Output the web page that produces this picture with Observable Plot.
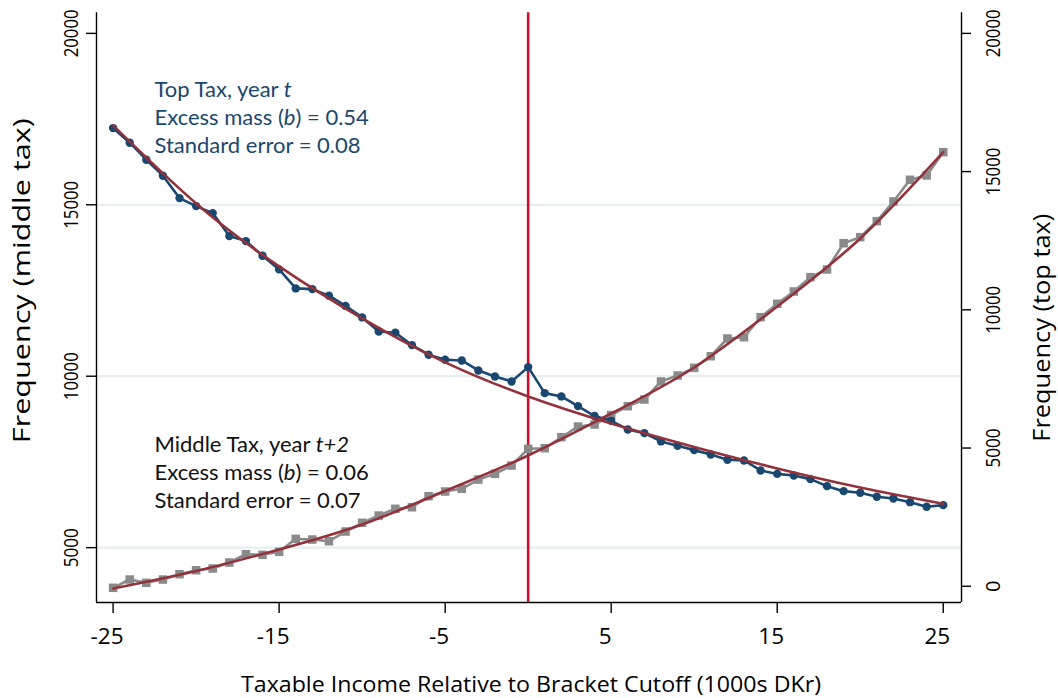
<!DOCTYPE html>
<html>
<head>
<meta charset="utf-8">
<script src="https://cdn.jsdelivr.net/npm/d3@7"></script>
<script src="https://cdn.jsdelivr.net/npm/@observablehq/plot@0.6"></script>
<style>
  html, body { margin: 0; padding: 0; background: #ffffff; }
  #chart { width: 1058px; height: 698px; }
</style>
</head>
<body>
<div id="chart"></div>
<script>
// ---------- data ----------
const bins = [-25,-24,-23,-22,-21,-20,-19,-18,-17,-16,-15,-14,-13,-12,-11,-10,-9,-8,-7,-6,-5,-4,-3,-2,-1,0,1,2,3,4,5,6,7,8,9,10,11,12,13,14,15,16,17,18,19,20,21,22,23,24,25];

// Top tax, year t (right axis, "Frequency (top tax)")
const topTax = [16574,16045,15430,14852,14041,13752,13498,12666,12485,11957,11462,10774,10749,10510,10141,9725,9218,9171,8723,8375,8194,8169,7807,7590,7409,7927,6986,6867,6516,6158,5984,5673,5539,5239,5083,4924,4768,4576,4551,4189,4064,4008,3875,3621,3440,3383,3238,3176,3042,2876,2934];

// Middle tax, year t+2 (left axis, "Frequency (middle tax)")
const middleTax = [3828,4070,3974,4070,4225,4341,4391,4566,4808,4790,4878,5257,5237,5187,5470,5724,5937,6132,6179,6500,6637,6716,6987,7153,7395,7883,7900,8221,8533,8591,8868,9125,9321,9846,10021,10245,10584,11100,11138,11721,12112,12471,12888,13113,13880,14055,14522,15096,15729,15855,16534];

// Fitted counterfactual curves (read at every 5k)
const fitBins = [-25,-20,-15,-10,-5,0,5,10,15,20,25];
const topFit = [16671,13849,11570,9689,8097,6867,5890,5040,4262,3574,2985];
const middleFit = [3807,4318,4945,5674,6652,7687,8912,10254,12033,14017,16534];

// Axis ticks and texts
const xTicks = [-25,-15,-5,5,15,25];
const leftTicks = [5000,10000,15000,20000];
const rightTicks = [0,5000,10000,15000,20000];
const gridTicks = [5000,10000,15000];
const cutoff = [0];
const xTitle = "Taxable Income Relative to Bracket Cutoff (1000s DKr)";
const leftTitle = "Frequency (middle tax)";
const rightTitle = "Frequency (top tax)";
const topNote = ["Top Tax, year t", "Excess mass (b) = 0.54", "Standard error = 0.08"];
const middleNote = ["Middle Tax, year t+2", "Excess mass (b) = 0.06", "Standard error = 0.07"];

// ---------- secondary axis mapping (right axis -> left axis units) ----------
const K = 0.8063;                       // ratio of right-axis to left-axis unit lengths
const toLeft = v => 20000 + (v - 20000) * K;

const navy = "#1a476f";
const gray = "#8a8a8a";
const fitRed = "#93323b";
const cutRed = "#c8102e";

const topData = bins.map((b, i) => ({x: b, y: toLeft(topTax[i])}));
const midData = bins.map((b, i) => ({x: b, y: middleTax[i]}));
const topFitData = fitBins.map((b, i) => ({x: b, y: toLeft(topFit[i])}));
const midFitData = fitBins.map((b, i) => ({x: b, y: middleFit[i]}));

const noteMarks = [];
topNote.forEach((t, i) => noteMarks.push(Plot.text([t], {
  text: d => d, frameAnchor: "top-left", dx: 58, dy: 77.5 + i * 27.7,
  textAnchor: "start", lineAnchor: "middle", fill: navy, fontFamily: "Lato", fontSize: 22
})));
middleNote.forEach((t, i) => noteMarks.push(Plot.text([t], {
  text: d => d, frameAnchor: "top-left", dx: 58, dy: 431.7 + i * 28.3,
  textAnchor: "start", lineAnchor: "middle", fill: "#111", fontFamily: "Lato", fontSize: 22
})));

const chart = Plot.plot({
  width: 1058,
  height: 698,
  marginLeft: 96,
  marginRight: 97,
  marginTop: 12.3,
  marginBottom: 96,
  x: {domain: [-26, 26.1], axis: null},
  y: {domain: [3400, 20600], axis: null},
  style: {fontFamily: "'Open Sans', sans-serif", background: "#ffffff", color: "#000"},
  marks: [
    // grid lines
    Plot.ruleY(gridTicks, {stroke: "#e6eef1", strokeWidth: 2.2}),
    // axis lines
    Plot.ruleX([-26], {stroke: "#000", strokeWidth: 1.4}),
    Plot.ruleX([26.1], {stroke: "#000", strokeWidth: 1.4}),
    Plot.ruleY([3400], {stroke: "#000", strokeWidth: 1.4}),
    // tick marks
    Plot.ruleY(leftTicks, {x1: -26, x2: -26, insetLeft: -10, stroke: "#000", strokeWidth: 1.4}),
    Plot.ruleY(rightTicks.map(toLeft), {x1: 26.1, x2: 26.1, insetRight: -10, stroke: "#000", strokeWidth: 1.4}),
    Plot.ruleX(xTicks, {y1: 3400, y2: 3400, insetBottom: -11, stroke: "#000", strokeWidth: 1.4}),
    // tick labels
    Plot.text(leftTicks, {y: d => d, text: d => String(d), frameAnchor: "left", dx: -25, rotate: -90,
      textAnchor: "middle", lineAnchor: "middle", fontSize: 20, fill: "#000", className: "ytl"}),
    Plot.text(rightTicks, {y: d => toLeft(d), text: d => String(d), frameAnchor: "right", dx: 32, rotate: -90,
      textAnchor: "middle", lineAnchor: "middle", fontSize: 20, fill: "#000", className: "ytl"}),
    Plot.text(xTicks, {x: d => d, text: d => String(d), frameAnchor: "bottom", dy: 34.5, dx: -6,
      textAnchor: "middle", lineAnchor: "middle", fontSize: 22.5, fill: "#000"}),
    // axis titles
    Plot.text([leftTitle], {text: d => d, frameAnchor: "left", dx: -74, dy: -27, rotate: -90,
      textAnchor: "middle", lineAnchor: "middle", fontSize: 24, fill: "#000"}),
    Plot.text([rightTitle], {text: d => d, frameAnchor: "right", dx: 81, dy: 20, rotate: -90,
      textAnchor: "middle", lineAnchor: "middle", fontSize: 24, fill: "#000"}),
    Plot.text([xTitle], {text: d => d, frameAnchor: "bottom", dy: 82, dx: 2,
      textAnchor: "middle", lineAnchor: "middle", fontSize: 22.5, fill: "#000"}),
    // bracket cutoff
    Plot.ruleX(cutoff, {stroke: cutRed, strokeWidth: 2.6}),
    // middle tax series
    Plot.line(midData, {x: "x", y: "y", stroke: gray, strokeWidth: 2.6}),
    Plot.dot(midData, {x: "x", y: "y", symbol: "square", r: 4.8, fill: gray, stroke: "none"}),
    // top tax series
    Plot.line(topData, {x: "x", y: "y", stroke: navy, strokeWidth: 2.6}),
    Plot.dot(topData, {x: "x", y: "y", r: 4.2, fill: navy, stroke: "none"}),
    // fitted curves
    Plot.line(midFitData, {x: "x", y: "y", curve: "natural", stroke: fitRed, strokeWidth: 2.6}),
    Plot.line(topFitData, {x: "x", y: "y", curve: "natural", stroke: fitRed, strokeWidth: 2.6}),
    ...noteMarks
  ]
});

// text widths matched to the reference
const lengths = new Map([[leftTitle, 325], [rightTitle, 228], [xTitle, 580]]);
chart.querySelectorAll("text").forEach(el => {
  const s = el.textContent;
  if (lengths.has(s)) {
    el.setAttribute("textLength", lengths.get(s));
    el.setAttribute("lengthAdjust", "spacingAndGlyphs");
  }
  if (topNote.includes(s) || middleNote.includes(s)) {
    el.innerHTML = s.replace("(b)", '(<tspan font-style="italic">b</tspan>)')
      .replace(/year t\+2$/, 'year <tspan font-style="italic">t+2</tspan>')
      .replace(/year t$/, 'year <tspan font-style="italic">t</tspan>');
  }
});
chart.querySelectorAll(".ytl text").forEach(el => {
  const n = el.textContent.length;
  if (n > 1) {
    el.setAttribute("textLength", n === 5 ? 48 : 39);
    el.setAttribute("lengthAdjust", "spacingAndGlyphs");
  }
});

document.getElementById("chart").appendChild(chart);
</script>
</body>
</html>
